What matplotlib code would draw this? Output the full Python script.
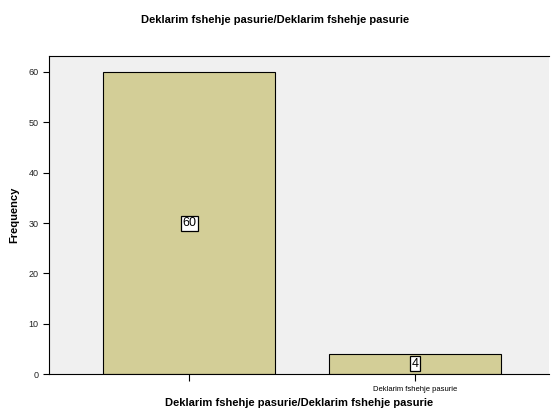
import matplotlib
matplotlib.use("Agg")
import matplotlib.pyplot as plt

# data
categories = ["", "Deklarim fshehje pasurie"]
counts = [60, 4]
title = "Deklarim fshehje pasurie/Deklarim fshehje pasurie"

plt.rcParams["font.family"] = ["Liberation Sans", "DejaVu Sans"]

fig = plt.figure(figsize=(5.51, 4.17), dpi=100)
ax = fig.add_axes([0.089, 0.103, 0.907, 0.763])
ax.set_facecolor("#F0F0F0")

x = list(range(len(categories)))
bars = ax.bar(x, counts, width=0.76, color="#D3CE97", edgecolor="black", linewidth=0.8)

# value labels in the middle of each bar
for xi, v in zip(x, counts):
    ax.text(xi, v / 2, str(v), ha="center", va="center", fontsize=9,
            bbox=dict(boxstyle="square,pad=0.12", fc="white", ec="black", lw=0.9))

ax.set_xlim(-0.62, 1.59)
ax.set_ylim(0, 63.2)
ax.set_yticks(range(0, 61, 10))
ax.set_xticks(x)
ax.set_xticklabels(categories, fontsize=5.5)
ax.tick_params(axis="y", labelsize=6.5, length=4, labelcolor="#222222")
ax.tick_params(axis="x", length=5)

for s in ["left", "top", "bottom"]:
    ax.spines[s].set_linewidth(0.8)
ax.spines["right"].set_visible(False)

ax.set_ylabel("Frequency", fontsize=8, fontweight="bold", labelpad=7)
ax.set_xlabel(title, fontsize=8, fontweight="bold", labelpad=4)
fig.text(0.5, 0.952, title, ha="center", va="center", fontsize=8, fontweight="bold")

fig.savefig("out.png", dpi=100)
